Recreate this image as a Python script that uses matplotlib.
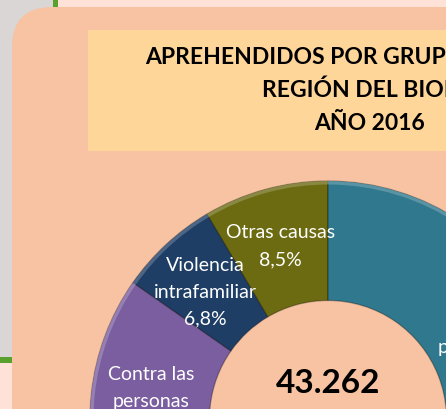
import matplotlib
matplotlib.use("Agg")
import matplotlib.pyplot as plt
from matplotlib.patches import Rectangle, FancyBboxPatch, Wedge
from matplotlib.colors import to_rgb
import numpy as np

# ---- data ----
categories = ["Otras causas", "Violencia\nintrafamiliar", "Contra las\npersonas",
              "Ley de\ndrogas", "propiedad"]
shares = [8.5, 6.8, 16.1, 30.4, 38.2]
colors = ["#6C6B12", "#1E3E66", "#7A5E9F", "#8C3A3A", "#2F788D"]
total_label = "43.262"
total_sub = "Aprehendidos"
title_lines = ["APREHENDIDOS POR GRUPO DE DELITOS", "REGIÓN DEL BIOBÍO", "AÑO 2016"]

W, H = 446, 410
fig = plt.figure(figsize=(W / 100, H / 100), dpi=100)
fig.patch.set_facecolor("#D9D6D5")
ax = fig.add_axes([0, 0, 1, 1])
ax.set_axis_off()

def fy(y):
    return H - y

# background pieces
ax.add_patch(Rectangle((58, fy(8)), W, 20, facecolor="#FEE1D7", edgecolor="none", zorder=0))
ax.add_patch(Rectangle((53, fy(8)), 5, 20, facecolor="#5AA02C", edgecolor="none", zorder=0))
ax.add_patch(Rectangle((-5, fy(364)), 17, 6, facecolor="#5AA02C", edgecolor="none", zorder=0))
ax.add_patch(Rectangle((-5, fy(420)), 17, 56, facecolor="#FEE1D7", edgecolor="none", zorder=0))
ax.add_patch(FancyBboxPatch((12, -100), 600, fy(8) + 100,
                            boxstyle="round,pad=0,rounding_size=40",
                            facecolor="#F8C3A2", edgecolor="none", zorder=1))
ax.add_patch(Rectangle((88, fy(152)), 600, 121, facecolor="#FFD699",
                       edgecolor="none", zorder=2))

# title
title_pos = [(145, 63.5, "left"), (262, 97, "left"), (370, 130.5, "center")]
for line, (tx, base, ha) in zip(title_lines, title_pos):
    ax.text(tx, fy(base), line, ha=ha, va="baseline", fontsize=16.5,
            fontweight="bold", family="Lato", color="black", zorder=5)

# donut
cx, cy = 328, fy(420)
R = 238
wedges, _ = ax.pie(shares, colors=colors, startangle=90, counterclock=True,
                   center=(cx, cy), radius=R, frame=True,
                   wedgeprops=dict(width=119.5, edgecolor=(0, 0, 0, 0.3), linewidth=0.9))
for w, c in zip(wedges, colors):
    w.set_zorder(3)
    light = tuple(0.7 * np.array(to_rgb(c)) + 0.3)
    ax.add_patch(Wedge((cx, cy), R, w.theta1, w.theta2, width=3.5,
                       facecolor=light, edgecolor="none", alpha=0.7, zorder=4))

label_r = [180, 174, 178, 178, 164]
label_dx = [0, -4, 0, 0, 0]
for w, cat, s, lr, dx in zip(wedges, categories, shares, label_r, label_dx):
    mid = np.deg2rad((w.theta1 + w.theta2) / 2)
    lx = cx + lr * np.cos(mid) + dx
    ly = cy + lr * np.sin(mid)
    txt = f"{cat}\n{s:.1f}%".replace(".", ",")
    ax.text(lx, ly, txt, ha="center", va="center", fontsize=14, family="Lato",
            color="white", linespacing=1.7, zorder=6)

ax.text(cx, fy(393), total_label, ha="center", va="baseline", fontsize=24,
        fontweight="bold", family="Lato", color="black", zorder=6)
ax.text(cx, fy(422.5), total_sub, ha="center", va="baseline", fontsize=12,
        family="Lato", color="#5A4A44", zorder=6)

ax.set_xlim(0, W)
ax.set_ylim(0, H)
ax.set_aspect("auto")
ax.set_axis_off()
fig.savefig("out.png", dpi=100, facecolor=fig.get_facecolor())
